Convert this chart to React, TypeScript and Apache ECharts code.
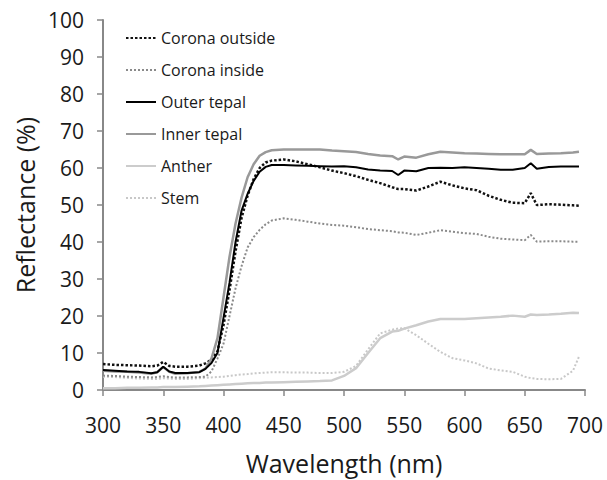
import React, { useEffect, useRef } from "react";
import * as echarts from "echarts";

const wavelengths = [300,310,320,330,340,345,350,355,360,370,380,385,390,395,400,405,410,415,420,425,430,435,440,450,460,470,480,490,500,510,520,530,540,545,550,560,570,580,590,600,610,620,630,640,650,655,660,670,680,690,695];

const coronaOutside = [7.0,6.8,6.7,6.6,6.4,6.6,7.6,6.5,6.3,6.3,6.6,7.2,8.2,10.5,17.5,27,37.5,46.5,52.5,57,60,61.5,62,62.3,61.8,61,60.2,59.3,58.6,57.8,56.8,55.9,54.8,54.3,54.3,53.9,55,56.3,55.3,54.5,54,52.5,51.4,50.6,50.5,53.2,50,50.2,50.1,49.9,49.8];
const coronaInside = [3.9,3.8,3.6,3.5,3.4,3.5,3.7,3.5,3.4,3.4,3.5,3.6,5,8.5,12.5,20,27.5,33.5,38.5,41.3,43.3,44.8,45.8,46.4,46,45.5,45,44.6,44.4,44,43.5,43.2,42.9,42.6,42.5,41.9,42.5,43.2,42.8,42.4,42.2,41.4,40.9,40.7,40.5,41.9,40.1,40.2,40.2,40.1,40.1];
const outerTepal = [5.4,5.2,5.0,4.9,4.5,4.8,6.3,5.0,4.6,4.6,4.8,5.7,7.3,10,19.5,29,40,48.5,53,56.5,59,60.3,60.8,60.8,60.7,60.6,60.5,60.4,60.5,60.2,59.6,59.3,59.2,58.1,59.3,59.1,60,60.1,60,60.2,60,59.8,59.5,59.5,60,61.3,59.8,60.3,60.4,60.4,60.4];
const innerTepal = [5.2,5.0,4.9,4.7,4.4,4.8,6.2,4.9,4.4,4.5,4.9,5.8,8.5,14,25,36,45,52,57.5,61,63.3,64.3,64.8,65,65,65,65,64.7,64.5,64.3,63.8,63.4,63.2,62.3,63.1,62.8,63.7,64.4,64.2,64,63.9,63.8,63.7,63.7,63.7,64.9,63.8,63.9,64,64.2,64.4];
const anther = [0.5,0.5,0.6,0.6,0.7,0.7,0.8,0.8,0.8,0.9,1.0,1.1,1.2,1.3,1.4,1.5,1.6,1.7,1.8,1.9,1.9,2.0,2.0,2.1,2.2,2.3,2.4,2.6,3.8,5.9,10,14,15.8,16,16.6,17.5,18.5,19.2,19.2,19.2,19.4,19.6,19.8,20.1,19.8,20.4,20.3,20.4,20.6,20.9,20.8];
const stem = [3.6,3.5,3.3,3.1,3.0,3.0,3.2,3.1,3.0,3.0,3.2,3.3,3.4,3.5,3.6,3.8,4.0,4.2,4.3,4.5,4.6,4.7,4.8,4.8,4.7,4.7,4.6,4.6,4.9,6.5,11,15.3,16.3,16.6,16.7,14.8,12.5,10.3,8.6,8,7.2,5.8,5.3,4.9,3.6,3.2,3.0,2.9,3.0,5.2,9.0];

const seriesNames = ["Corona outside", "Corona inside", "Outer tepal", "Inner tepal", "Anther", "Stem"];
const xTicks = { min: 300, max: 700, interval: 50 };
const yTicks = { min: 0, max: 100, interval: 10 };

const FONT = "'Open Sans', 'Noto Sans', sans-serif";

export default function App() {
  const ref = useRef<HTMLDivElement>(null);
  useEffect(() => {
    if (!ref.current) return;
    const chart = echarts.init(ref.current, null, { renderer: "svg" });
    const pairs = (vals: number[]) => wavelengths.map((w, i) => [w, vals[i]]);
    const styles = [
      { color: "#111111", width: 2.5, type: [2.5, 2] },
      { color: "#8a8a8a", width: 2, type: [2, 2] },
      { color: "#000000", width: 2, type: "solid" },
      { color: "#999999", width: 2.5, type: "solid" },
      { color: "#cccccc", width: 2.5, type: "solid" },
      { color: "#c8c8c8", width: 2, type: [2, 2] },
    ];
    const datas = [coronaOutside, coronaInside, outerTepal, innerTepal, anther, stem];
    const order = [5, 4, 1, 0, 3, 2];
    chart.setOption({
      animation: false,
      textStyle: { fontFamily: FONT },
      grid: { left: 103, right: 22, top: 20, bottom: 90, containLabel: false },
      legend: {
        orient: "vertical",
        left: 120,
        top: 25,
        itemWidth: 30,
        itemHeight: 16,
        itemGap: 16,
        data: seriesNames,
        itemStyle: { opacity: 0 },
        textStyle: { fontFamily: FONT, fontSize: 16, color: "#1a1a1a" },
      },
      xAxis: {
        type: "value",
        min: xTicks.min,
        max: xTicks.max,
        interval: xTicks.interval,
        name: "Wavelength (nm)",
        nameLocation: "middle",
        nameGap: 60,
        nameTextStyle: { fontFamily: FONT, fontSize: 25, color: "#1a1a1a" },
        axisLine: { lineStyle: { color: "#888888", width: 2 } },
        axisTick: { show: true, length: 6, lineStyle: { color: "#888888", width: 1.5 } },
        axisLabel: { fontFamily: FONT, fontSize: 21, color: "#1a1a1a", margin: 24 },
        splitLine: { show: false },
      },
      yAxis: {
        type: "value",
        min: yTicks.min,
        max: yTicks.max,
        interval: yTicks.interval,
        name: "Reflectance (%)",
        nameLocation: "middle",
        nameGap: 62,
        nameTextStyle: { fontFamily: FONT, fontSize: 25, color: "#1a1a1a" },
        axisLine: { show: true, lineStyle: { color: "#888888", width: 2 } },
        axisTick: { show: true, length: 6, lineStyle: { color: "#888888", width: 1.5 } },
        axisLabel: { fontFamily: FONT, fontSize: 21, color: "#1a1a1a", margin: 19 },
        splitLine: { show: false },
      },
      series: order.map((i) => ({
        name: seriesNames[i],
        type: "line",
        data: pairs(datas[i]),
        symbol: "none",
        showSymbol: false,
        smooth: false,
        z: 2 + order.indexOf(i),
        lineStyle: styles[i],
        itemStyle: { color: styles[i].color },
      })),
    });
    return () => chart.dispose();
  }, []);
  return (
    <div
      ref={ref}
      style={{ position: "fixed", left: 0, top: 0, width: 607, height: 480, background: "#ffffff" }}
    />
  );
}
